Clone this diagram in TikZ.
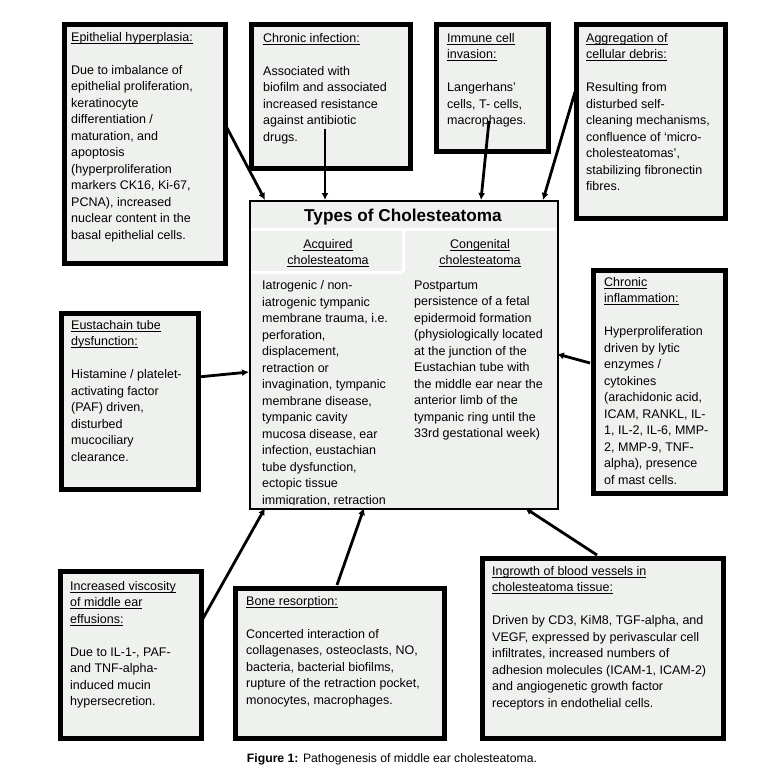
\documentclass[tikz,border=0pt]{standalone}
\usepackage{fontspec}
\setmainfont{Liberation Sans}
\usetikzlibrary{arrows.meta}
\definecolor{boxgray}{RGB}{239,241,238}
\newcommand{\ulx}[1]{\underline{\smash{#1}\vphantom{A}}}
\tikzset{
  factbox/.style={draw=black, line width=4.5pt, fill=boxgray, rectangle, anchor=north west, inner sep=0pt},
  bodytext/.style={anchor=north west, inner sep=0pt, align=left, font=\fontsize{12.5}{16.5}\selectfont, text=black},
  headtext/.style={anchor=north, inner sep=0pt, align=center, font=\fontsize{12.5}{16.5}\selectfont, text=black},
  link/.style={line width=2.8pt, -{Latex[length=7pt,width=7pt]}},
  sepline/.style={white, line width=3pt}
}
\begin{document}
\begin{tikzpicture}[x=1pt,y=-1pt]
\useasboundingbox (0,0) rectangle (771,780);
\fill[white] (0,0) rectangle (771,780);

% boxes
\node[factbox, minimum width=161pt, minimum height=239pt] (b1) at (62,22) {};
\node[factbox, minimum width=159pt, minimum height=144pt] (b2) at (249,22) {};
\node[factbox, minimum width=112pt, minimum height=127pt] (b3) at (434,22) {};
\node[factbox, minimum width=149pt, minimum height=194pt] (b4) at (574,22) {};
\node[factbox, minimum width=137pt, minimum height=176pt] (b5) at (59,311) {};
\node[factbox, minimum width=132pt, minimum height=223pt] (b6) at (591,268) {};
\node[factbox, minimum width=141pt, minimum height=167pt] (b7) at (58,569) {};
\node[factbox, minimum width=209pt, minimum height=150pt] (b8) at (233,586) {};
\node[factbox, minimum width=241pt, minimum height=180pt] (b9) at (480,556) {};

% central box
\node[draw=black, line width=1.5pt, fill=boxgray, rectangle, anchor=north west, inner sep=0pt,
      minimum width=308pt, minimum height=308pt] (cbox) at (249,200) {};
\draw[sepline] (250.5,229) -- (555.5,229);
\draw[sepline] (403,229) -- (403,272);
\draw[sepline] (250.5,272) -- (403,272);

\node[anchor=base, inner sep=0pt, font=\fontsize{17.2}{20}\selectfont\bfseries] (ttl) at (403,221) {Types of Cholesteatoma};
\node[headtext] (acq) at (328,239.5) {\ulx{Acquired}\\\ulx{cholesteatoma}};
\node[headtext] (con) at (480,239.5) {\ulx{Congenital}\\\ulx{cholesteatoma}};
\begin{scope}
\clip (250.5,201.5) rectangle (555.5,504.8);
\node[bodytext] (acqt) at (262,280.5) {Iatrogenic / non-\\iatrogenic tympanic\\membrane trauma, i.e.\\perforation,\\displacement,\\retraction or\\invagination, tympanic\\membrane disease,\\tympanic cavity\\mucosa disease, ear\\infection, eustachian\\tube dysfunction,\\ectopic tissue\\immigration, retraction};
\end{scope}
\node[bodytext] (cont) at (414,280.5) {Postpartum\\persistence of a fetal\\epidermoid formation\\(physiologically located\\at the junction of the\\Eustachian tube with\\the middle ear near the\\anterior limb of the\\tympanic ring until the\\33rd gestational week)};

% box texts
\node[bodytext] (t1) at (71,32.5) {\ulx{Epithelial hyperplasia:}\\[16.5pt]Due to imbalance of\\epithelial proliferation,\\keratinocyte\\differentiation /\\maturation, and\\apoptosis\\(hyperproliferation\\markers CK16, Ki-67,\\PCNA), increased\\nuclear content in the\\basal epithelial cells.};
\node[bodytext] (t2) at (263,33.5) {\ulx{Chronic infection:}\\[16.5pt]Associated with\\biofilm and associated\\increased resistance\\against antibiotic\\drugs.};
\node[bodytext] (t3) at (447,33.5) {\ulx{Immune cell}\\\ulx{invasion:}\\[16.5pt]Langerhans’\\cells, T- cells,\\macrophages.};
\node[bodytext] (t4) at (586,33.5) {\ulx{Aggregation of}\\\ulx{cellular debris:}\\[16.5pt]Resulting from\\disturbed self-\\cleaning mechanisms,\\confluence of ‘micro-\\cholesteatomas’,\\stabilizing fibronectin\\fibres.};
\node[bodytext] (t5) at (71,320.5) {\ulx{Eustachain tube}\\\ulx{dysfunction:}\\[16.5pt]Histamine / platelet-\\activating factor\\(PAF) driven,\\disturbed\\mucociliary\\clearance.};
\node[bodytext] (t6) at (604,277.5) {\ulx{Chronic}\\\ulx{inflammation:}\\[16.5pt]Hyperproliferation\\driven by lytic\\enzymes /\\cytokines\\(arachidonic acid,\\ICAM, RANKL, IL-\\1, IL-2, IL-6, MMP-\\2, MMP-9, TNF-\\alpha), presence\\of mast cells.};
\node[bodytext] (t7) at (70,581.5) {\ulx{Increased viscosity}\\\ulx{of middle ear}\\\ulx{effusions:}\\[16.5pt]Due to IL-1-, PAF-\\and TNF-alpha-\\induced mucin\\hypersecretion.};
\node[bodytext] (t8) at (246,596.5) {\ulx{Bone resorption:}\\[16.5pt]Concerted interaction of\\collagenases, osteoclasts, NO,\\bacteria, bacterial biofilms,\\rupture of the retraction pocket,\\monocytes, macrophages.};
\node[bodytext] (t9) at (492,566.5) {\ulx{Ingrowth of blood vessels in}\\\ulx{cholesteatoma tissue:}\\[16.5pt]Driven by CD3, KiM8, TGF-alpha, and\\VEGF, expressed by perivascular cell\\infiltrates, increased numbers of\\adhesion molecules (ICAM-1, ICAM-2)\\and angiogenetic growth factor\\receptors in endothelial cells.};

% connector end points
\coordinate (s1) at (226,126);
\coordinate (e1) at (265,200);
\coordinate (s2) at (325,129);
\coordinate (e2) at (325,200);
\coordinate (s3) at (489,121);
\coordinate (e3) at (481,200);
\coordinate (s4) at (575,92);
\coordinate (e4) at (543,200);
\coordinate (s5) at (198,377);
\coordinate (e5) at (249,372);
\coordinate (s6) at (590,363);
\coordinate (e6) at (557,354);
\coordinate (s7) at (201,622);
\coordinate (e7) at (265,508);
\coordinate (s8) at (337,585);
\coordinate (e8) at (364,508);
\coordinate (s9) at (597,555);
\coordinate (e9) at (525,508);

\foreach \i in {1,...,9} {\draw[link] (s\i) -- (e\i);}

% caption
\node[anchor=base, inner sep=0pt, font=\fontsize{12.2}{14}\selectfont] (cap) at (392,762) {\textbf{Figure 1:} Pathogenesis of middle ear cholesteatoma.};
\end{tikzpicture}
\end{document}
